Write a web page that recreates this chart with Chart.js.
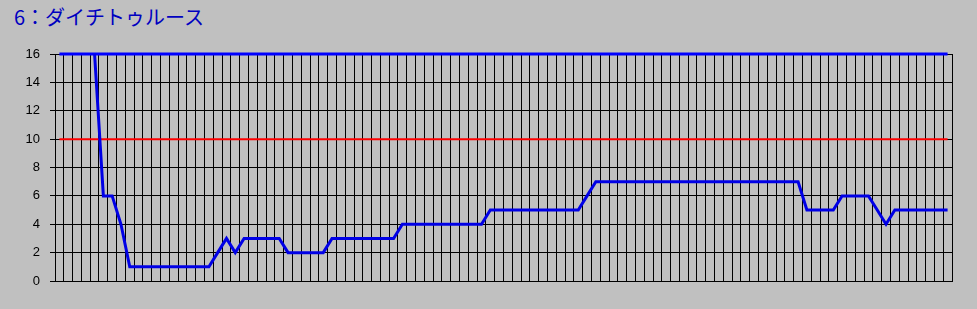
<!DOCTYPE html>
<html lang="ja">
<head>
<meta charset="UTF-8">
<title>6：ダイチトゥルース</title>
<script src="https://cdn.jsdelivr.net/npm/chart.js"></script>
<style>
  html, body { margin: 0; padding: 0; background: #c0c0c0; }
  .wrap { position: relative; width: 977px; height: 309px; }
  .title {
    position: absolute; left: 14px; top: 2px;
    font-family: "Noto Sans CJK JP", "Liberation Sans", sans-serif;
    font-size: 20px; color: #0000c0; white-space: nowrap;
  }
  canvas { position: absolute; left: 0; top: 0; }
</style>
</head>
<body>
<div class="wrap">
  <div class="title">6：ダイチトゥルース</div>
  <canvas id="chart" width="977" height="309"></canvas>
</div>
<script>
// 102 races, no x labels shown
const races = Array.from({ length: 102 }, (_, i) => String(i + 1));

const rank = [
  null, null, null, null, 16, 6, 6, 4, 1, 1,
  1, 1, 1, 1, 1, 1, 1, 1, 2, 3,
  2, 3, 3, 3, 3, 3, 2, 2, 2, 2,
  2, 3, 3, 3, 3, 3, 3, 3, 3, 4,
  4, 4, 4, 4, 4, 4, 4, 4, 4, 5,
  5, 5, 5, 5, 5, 5, 5, 5, 5, 5,
  6, 7, 7, 7, 7, 7, 7, 7, 7, 7,
  7, 7, 7, 7, 7, 7, 7, 7, 7, 7,
  7, 7, 7, 7, 7, 5, 5, 5, 5, 6,
  6, 6, 6, 5, 4, 5, 5, 5, 5, 5,
  5, 5
];

const redLevel = 10;
const blueLevel = 16;
const yTicks = [0, 2, 4, 6, 8, 10, 12, 14, 16];

new Chart(document.getElementById('chart'), {
  type: 'line',
  data: {
    labels: races,
    datasets: [
      {
        data: races.map(() => blueLevel),
        borderColor: '#0000ff',
        borderWidth: 3,
        pointRadius: 0,
        clip: false,
        order: 3
      },
      {
        data: races.map(() => redLevel),
        borderColor: '#ff0000',
        borderWidth: 2,
        pointRadius: 0,
        order: 2
      },
      {
        data: rank,
        borderColor: '#0000e6',
        borderWidth: 3,
        pointRadius: 0,
        spanGaps: false,
        order: 1
      }
    ]
  },
  options: {
    responsive: false,
    animation: false,
    layout: { padding: { top: 54, right: 25, left: 0, bottom: 0 } },
    plugins: {
      legend: { display: false },
      tooltip: { enabled: false }
    },
    scales: {
      x: {
        offset: true,
        grid: { offset: true, color: '#000000', lineWidth: 1, drawTicks: false },
        border: { display: true, color: '#000000' },
        ticks: { display: false },
        afterFit: s => { s.height = 28; }
      },
      y: {
        min: 0,
        max: 16,
        afterBuildTicks: s => { s.ticks = yTicks.map(v => ({ value: v })); },
        grid: { color: '#000000', lineWidth: 1, tickLength: 5 },
        border: { display: true, color: '#000000' },
        ticks: {
          color: '#000000',
          padding: 10,
          font: { family: 'Liberation Sans', size: 13 }
        },
        afterFit: s => { s.width = 55; }
      }
    }
  }
});
</script>
</body>
</html>
